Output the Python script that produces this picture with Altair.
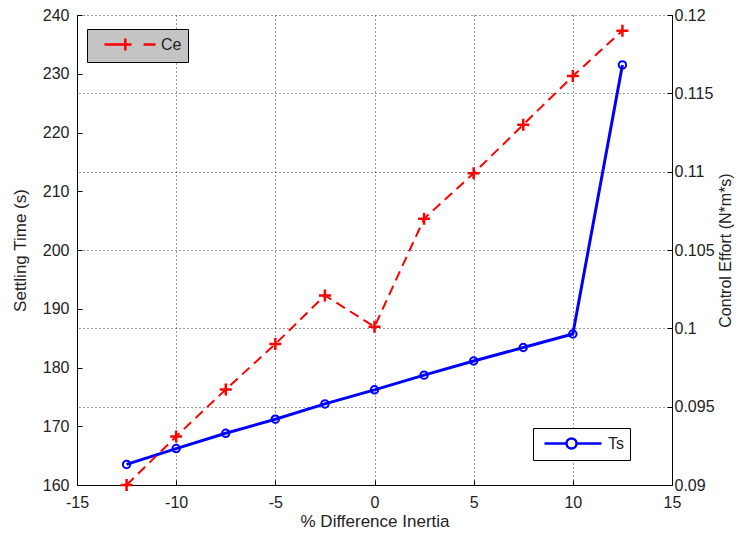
import altair as alt
import pandas as pd

# ---- data ----
inertia = [-12.5, -10, -7.5, -5, -2.5, 0, 2.5, 5, 7.5, 10, 12.5]
settling_time = [163.5, 166.2, 168.8, 171.2, 173.8, 176.2, 178.7, 181.1, 183.4, 185.7, 231.5]
control_effort = [0.0900, 0.0931, 0.0961, 0.0990, 0.1021, 0.1001, 0.1070, 0.1099, 0.1130, 0.1161, 0.1190]

x_ticks = [-15, -10, -5, 0, 5, 10, 15]
ts_ticks = [160, 170, 180, 190, 200, 210, 220, 230, 240]
ce_ticks = [0.09, 0.095, 0.1, 0.105, 0.11, 0.115, 0.12]

df_ts = pd.DataFrame({"x": inertia, "ts": settling_time, "series": "Ts"})
df_ce = pd.DataFrame({"x": inertia, "ce": control_effort, "series": "Ce"})

FONT = "Liberation Sans"
BLUE = "#0000ff"
RED = "#ff0000"
INWARD = alt.ExprRef(expr="-5")

x_enc = alt.X(
    "x:Q",
    scale=alt.Scale(domain=[-15, 15], nice=False, zero=False),
    axis=alt.Axis(
        values=x_ticks,
        title="% Difference Inertia",
        grid=True,
        labelExpr="toString(datum.value)",
        labelFlush=False,
        tickSize=INWARD,
        labelPadding=14,
        titlePadding=3,
    ),
)

y_ts = alt.Y(
    "ts:Q",
    scale=alt.Scale(domain=[160, 240], nice=False, zero=False),
    axis=alt.Axis(
        orient="left",
        values=ts_ticks,
        title="Settling Time (s)",
        grid=False,
        labelFlush=False,
        tickSize=INWARD,
        labelPadding=13,
        titlePadding=13,
    ),
)

y_ce = alt.Y(
    "ce:Q",
    scale=alt.Scale(domain=[0.09, 0.12], nice=False, zero=False),
    axis=alt.Axis(
        orient="right",
        values=ce_ticks,
        format="~g",
        title="Control Effort (N*m*s)",
        titleAngle=270,
        titleBaseline="top",
        titleFontSize=16,
        grid=True,
        labelFlush=False,
        tickSize=INWARD,
        labelPadding=7,
        titlePadding=3,
    ),
)

TS_SYMBOL = "M-0.5,0H2.25M3.5,0H6.625M3.5,0A0.625,0.625 0 1,0 2.25,0A0.625,0.625 0 1,0 3.5,0"
CE_SYMBOL = "M0.25,0H3.625M2.85,-0.75V0.75M5.125,0H6.625"
PLUS = "M-1,0H1M0,-1V1"

ts_color = alt.Color(
    "series:N",
    scale=alt.Scale(domain=["Ts"], range=[BLUE]),
    legend=alt.Legend(
        title=None,
        orient="none",
        legendX=456,
        legendY=413,
        symbolType=TS_SYMBOL,
        symbolSize=256,
        symbolStrokeWidth=2.5,
        symbolOpacity=1,
        symbolFillColor="transparent",
        labelOffset=50,
        padding=6,
        fillColor="white",
        strokeColor="#000",
    ),
)

ce_color = alt.Color(
    "series:N",
    scale=alt.Scale(domain=["Ce"], range=[RED]),
    legend=alt.Legend(
        title=None,
        orient="none",
        legendX=10,
        legendY=14,
        symbolType=CE_SYMBOL,
        symbolSize=256,
        symbolStrokeWidth=2.5,
        symbolOpacity=1,
        symbolFillColor="transparent",
        labelOffset=49,
        padding=6,
        fillColor="#c4c4c4",
        strokeColor="#000",
    ),
)

ts_line = alt.Chart(df_ts).mark_line(color=BLUE, strokeWidth=3).encode(x=x_enc, y=y_ts)
ts_pts = alt.Chart(df_ts).mark_point(
    shape="circle", filled=False, size=55, strokeWidth=2, opacity=1
).encode(x=x_enc, y=y_ts, color=ts_color)

ce_line = alt.Chart(df_ce).mark_line(color=RED, strokeWidth=2, strokeDash=[10, 6]).encode(x=x_enc, y=y_ce)
ce_pts = alt.Chart(df_ce).mark_point(
    shape=PLUS, filled=False, size=144, strokeWidth=2.5, opacity=1
).encode(x=x_enc, y=y_ce, color=ce_color)

chart = (
    alt.layer(alt.layer(ts_line, ts_pts), alt.layer(ce_line, ce_pts))
    .resolve_scale(y="independent", color="independent")
    .properties(
        width=595,
        height=470,
        padding={"left": 69, "top": 7, "right": 62, "bottom": 44},
        autosize=alt.AutoSizeParams(type="none"),
        background="white",
    )
    .configure_view(stroke=None)
    .configure_axis(
        labelFont=FONT,
        labelFontSize=16,
        labelColor="#222",
        titleFont=FONT,
        titleFontSize=17,
        titleFontWeight="normal",
        titleColor="#222",
        domainColor="#000",
        domainWidth=1,
        tickColor="#000",
        gridColor="#000",
        gridDash=[1, 3],
        gridOpacity=0.8,
    )
    .configure_legend(labelFont=FONT, labelFontSize=16, labelColor="#222")
)

chart.save("out.html", embed_options={"renderer": "svg", "actions": False})
